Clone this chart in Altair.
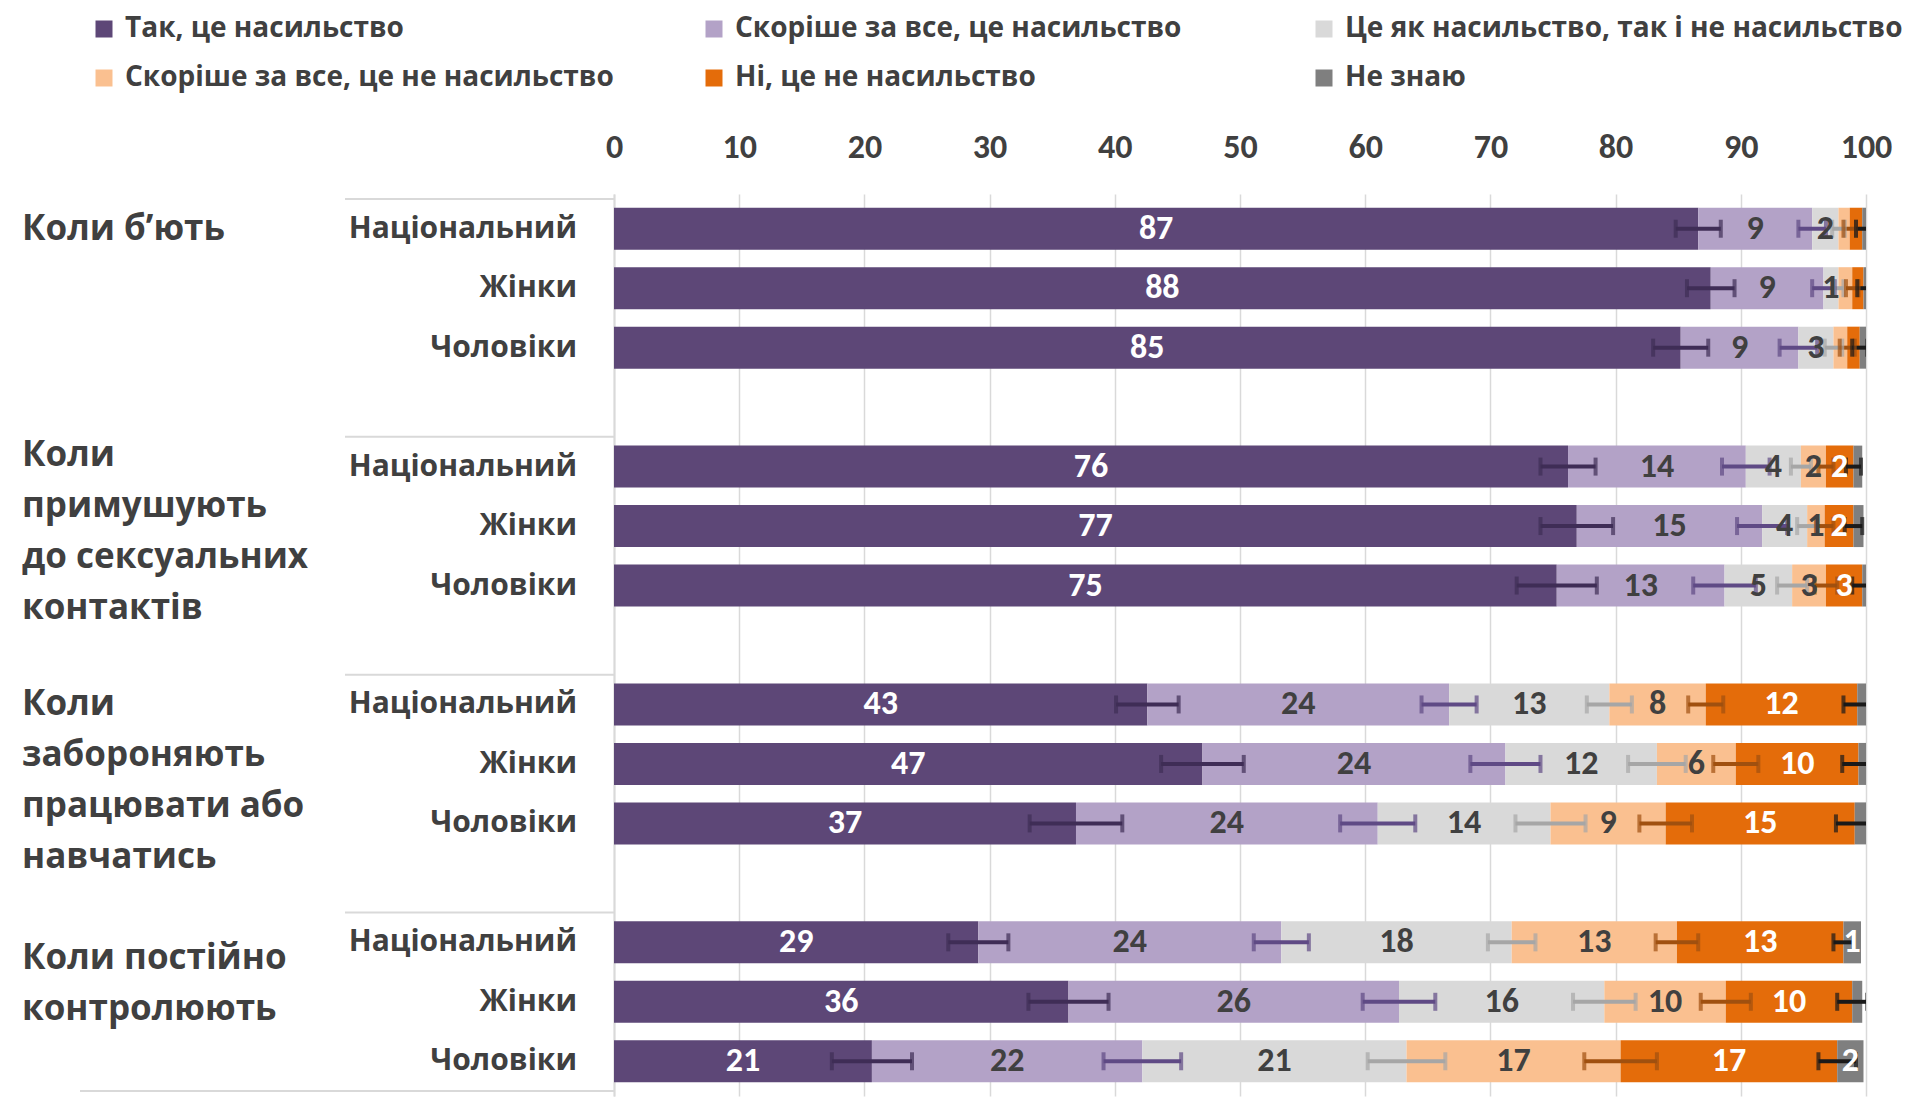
import altair as alt
import pandas as pd

# ---------------- data ----------------
groups = [
    "Коли б’ють",
    "Коли\nпримушують\nдо сексуальних\nконтактів",
    "Коли\nзабороняють\nпрацювати або\nнавчатись",
    "Коли постійно\nконтролюють",
]
subgroups = ["Національний", "Жінки", "Чоловіки"]
series = [
    "Так, це насильство",
    "Скоріше за все, це насильство",
    "Це як насильство, так і не насильство",
    "Скоріше за все, це не насильство",
    "Ні, це не насильство",
    "Не знаю",
]

# rows: group1 (Нац, Жінки, Чоловіки), group2 ..., group4
yes        = [86.6, 87.6, 85.2, 76.2, 76.9, 75.3, 42.6, 47.0, 36.9, 29.1, 36.3, 20.6]
likely_yes = [9.1, 9.0, 9.4, 14.2, 14.8, 13.4, 24.1, 24.2, 24.1, 24.2, 26.4, 21.6]
both       = [2.1, 1.2, 2.8, 4.4, 3.6, 5.4, 12.8, 12.1, 13.8, 18.4, 16.4, 21.1]
likely_no  = [0.9, 1.1, 1.1, 2.0, 1.4, 2.7, 7.7, 6.3, 9.2, 13.2, 9.7, 17.1]
no         = [1.0, 0.9, 1.0, 2.2, 2.3, 2.9, 12.1, 9.8, 15.1, 13.3, 10.1, 17.3]
dont_know  = [0.3, 0.2, 0.5, 0.7, 0.8, 0.3, 0.7, 0.6, 0.9, 1.4, 0.8, 2.1]

# error bar half-widths (at the end of each segment)
err_yes        = [1.8, 1.9, 2.2, 2.2, 2.9, 3.2, 2.5, 3.3, 3.7, 2.4, 3.2, 3.2]
err_likely_yes = [1.1, 0.9, 1.5, 1.9, 2.0, 2.5, 2.2, 2.8, 3.0, 2.2, 2.9, 3.1]
err_both       = [0.5, 0.4, 0.7, 0.8, 0.8, 1.2, 1.8, 2.3, 2.8, 1.9, 2.5, 3.1]
err_likely_no  = [0.5, 0.5, 0.6, 0.6, 0.7, 0.9, 1.4, 1.8, 2.1, 1.7, 2.0, 2.9]
err_no         = [0.5, 0.5, 0.6, 0.6, 0.7, 0.8, 1.1, 1.3, 1.5, 0.8, 1.2, 1.5]

x_ticks = [0, 10, 20, 30, 40, 50, 60, 70, 80, 90, 100]

# ---------------- styles ----------------
colors = ["#5d4777", "#b3a2c7", "#d9d9d9", "#fac090", "#e46c0a", "#7f7f7f"]
err_colors = ["#3f2d56", "#5f4a85", "#a6a6a6", "#a0500f", "#1a1a1a"]
label_colors = ["#ffffff", "#404040", "#404040", "#404040", "#ffffff", "#ffffff"]
TEXT = "#404040"
GRID = "#d9d9d9"
SANS = "Open Sans, Noto Sans, sans-serif"
NUM = "Carlito, Liberation Sans Narrow, DejaVu Sans Condensed, Roboto, sans-serif"
group_label_offset = [0, -0.2, 0, 0.26]   # layout: first-line placement of group titles
MIN_LABEL = 1.15

values = [yes, likely_yes, both, likely_no, no, dont_know]
errs = [err_yes, err_likely_yes, err_both, err_likely_no, err_no]

bar_rows, err_rows, cap_rows = [], [], []
for i in range(len(yes)):
    g, s = divmod(i, 3)
    row = g * 4 + s
    cum = 0.0
    for k, name in enumerate(series):
        v = values[k][i]
        start, end = cum, cum + v
        cum = end
        bar_rows.append(dict(row=row, series=name, value=v, start=start, end=end,
                             mid=(start + end) / 2, lcolor=label_colors[k]))
        if k < len(errs):
            e = errs[k][i]
            err_rows.append(dict(row=row, lo=end - e, hi=end + e, ecolor=err_colors[k]))
            cap_rows.append(dict(row=row, cx=end - e, ecolor=err_colors[k]))
            cap_rows.append(dict(row=row, cx=end + e, ecolor=err_colors[k]))

df = pd.DataFrame(bar_rows)
df_lab = df[df["value"] >= MIN_LABEL]
df_err = pd.DataFrame(err_rows)
df_cap = pd.DataFrame(cap_rows)

df_sub = pd.DataFrame([dict(row=g * 4 + s, text=subgroups[s])
                       for g in range(len(groups)) for s in range(3)])
df_grp = pd.DataFrame([dict(row=g * 4 + group_label_offset[g], text=groups[g])
                       for g in range(len(groups))])
df_sep = pd.DataFrame(dict(row=[g * 4 - 0.5 for g in range(len(groups))]))
df_bot = pd.DataFrame(dict(row=[len(groups) * 4 - 1.5]))

xscale = alt.Scale(domain=[0, 100], nice=False, zero=True)
yscale = alt.Scale(domain=[-0.5, len(groups) * 4 - 1.5], reverse=True, nice=False, zero=False)

bars = alt.Chart(df).mark_bar(size=42, orient="horizontal").encode(
    x=alt.X("start:Q", scale=xscale,
            axis=alt.Axis(orient="top", values=x_ticks, title=None, domain=False, ticks=False,
                          grid=True, gridColor=GRID, gridWidth=1.5,
                          labelFont=NUM, labelFontSize=34, labelFontWeight="bold",
                          labelColor=TEXT, labelPadding=30, labelFlush=False)),
    x2="end:Q",
    y=alt.Y("row:Q", scale=yscale,
            axis=alt.Axis(labels=False, ticks=False, grid=False, title=None,
                          domainColor=GRID, domainWidth=2)),
    color=alt.Color("series:N", scale=alt.Scale(domain=series, range=colors),
                    legend=alt.Legend(title=None, orient="none", legendX=-524, legendY=-179,
                                      direction="horizontal", columns=3, gridAlign="all",
                                      columnPadding=17, rowPadding=21,
                                      symbolType="square", symbolSize=289, symbolStrokeWidth=0,
                                      labelFont=SANS, labelFontWeight="bold", labelFontSize=28,
                                      labelColor=TEXT, labelOffset=7, labelLimit=1000)),
)

err_lines = alt.Chart(df_err).mark_rule(strokeWidth=4, clip=True).encode(
    x="lo:Q", x2="hi:Q", y="row:Q",
    color=alt.Color("ecolor:N", scale=None),
)
err_caps = alt.Chart(df_cap).mark_tick(orient="vertical", size=18, thickness=4, clip=True).encode(
    x="cx:Q", y="row:Q",
    color=alt.Color("ecolor:N", scale=None),
)

labels = alt.Chart(df_lab).mark_text(font=NUM, fontSize=34, fontWeight="bold",
                                     baseline="middle", align="center").encode(
    x="mid:Q", y="row:Q",
    text=alt.Text("value:Q", format=".0f"),
    color=alt.Color("lcolor:N", scale=None),
)

sub_labels = alt.Chart(df_sub).mark_text(font=SANS, fontSize=30, fontWeight="bold",
                                         align="right", baseline="middle", color=TEXT).encode(
    x=alt.value(-37), y="row:Q", text="text:N",
)

grp_labels = alt.Chart(df_grp).mark_text(font=SANS, fontSize=35, fontWeight="bold",
                                         align="left", baseline="middle", color=TEXT,
                                         lineBreak="\n", lineHeight=51).encode(
    x=alt.value(-592), y="row:Q", text="text:N",
)

seps = alt.Chart(df_sep).mark_rule(color=GRID, strokeWidth=2).encode(
    x=alt.value(-269), x2=alt.value(0), y="row:Q",
)
bottom = alt.Chart(df_bot).mark_rule(color=GRID, strokeWidth=2).encode(
    x=alt.value(-534), x2=alt.value(0), y="row:Q",
)

chart = alt.layer(
    bars, err_lines, err_caps, labels, sub_labels, grp_labels, seps, bottom
).resolve_scale(color="independent").properties(
    width=1252, height=902,
    autosize=alt.AutoSizeParams(type="none"),
    padding={"left": 606, "top": 186, "right": 47, "bottom": 2},
).configure_view(stroke=None)

chart.save("out.html", embed_options={"renderer": "svg", "actions": False})
